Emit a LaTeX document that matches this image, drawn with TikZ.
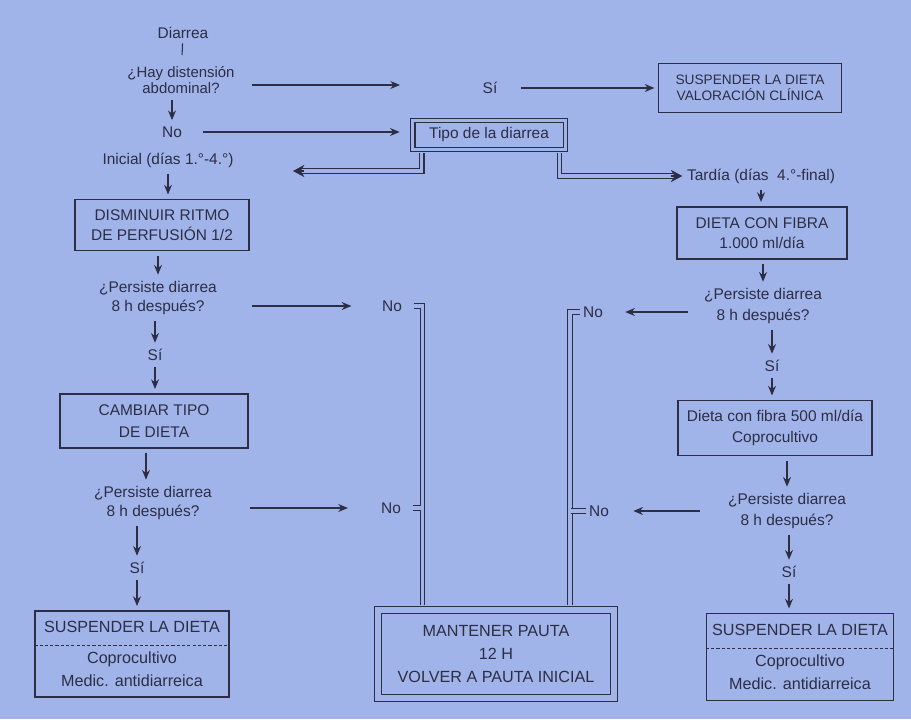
\documentclass[tikz,border=0pt]{standalone}
\usepackage{fontspec}
\setmainfont{Liberation Sans}
\usetikzlibrary{arrows.meta}
\definecolor{papel}{RGB}{160,180,234}
\definecolor{tinta}{RGB}{45,45,68}
\tikzset{
  txt/.style={font=\fontsize{8.8}{11}\selectfont, text=tinta, align=center, inner sep=1pt},
  caja/.style={txt, font=\fontsize{8.8}{11.5}\selectfont, draw=tinta, line width=0.7pt},
  grande/.style={font=\fontsize{9.2}{13}\selectfont},
  doble/.style={draw=tinta, line width=0.6pt, double=papel, double distance=2.2pt},
  flecha/.style={draw=tinta, line width=0.7pt, -{Stealth[length=5.5pt,width=4.5pt]}, shorten <=2.5pt, shorten >=2.5pt},
  punta/.style={draw=tinta, line width=0.6pt, -{Stealth[length=6.5pt,width=7pt]}},
  corte/.style={draw=tinta, line width=0.5pt, dash pattern=on 1.8pt off 1.2pt},
}
\begin{document}
\begin{tikzpicture}[x=0.02cm, y=-0.02cm]
\fill[papel] (0,0) rectangle (911,719);
\useasboundingbox (0,0) rectangle (911,719);

% entrada
\node[txt] (diarrea) at (183,33) {Diarrea};
\node[txt, font=\fontsize{8.5}{9.5}\selectfont] (hay) at (181,80) {¿Hay distensión\\abdominal?};
\node[txt] (si0) at (490,88) {Sí};
\node[caja, font=\fontsize{7.8}{9}\selectfont, minimum width=3.66cm, minimum height=0.98cm] (susp0) at (750,88) {SUSPENDER LA DIETA\\VALORACIÓN CLÍNICA};
\node[txt] (no0) at (172,132) {No};
\node[txt, doble, minimum width=3.06cm, minimum height=0.58cm] (tipo) at (489,135) {Tipo de la diarrea};
\node[txt] (inicial) at (168,160) {Inicial (días 1.°-4.°)};
\node[txt] (tardia) at (761,176) {Tardía (días~ 4.°-final)};

% rama inicial
\node[caja, minimum width=3.48cm, minimum height=1.02cm] (dismin) at (162,225) {DISMINUIR RITMO\\DE PERFUSIÓN 1/2};
\node[txt] (pers1) at (158,298) {¿Persiste diarrea\\8 h después?};
\node[txt] (no1) at (392,306) {No};
\node[txt] (si1) at (155,355) {Sí};
\node[caja, font=\fontsize{8.8}{12.5}\selectfont, minimum width=3.76cm, minimum height=1.08cm] (cambiar) at (154,421) {CAMBIAR TIPO\\DE DIETA};
\node[txt] (pers2) at (153,503) {¿Persiste diarrea\\8 h después?};
\node[txt] (no2) at (391,508) {No};
\node[txt] (si2) at (137,568) {Sí};
\node[caja, grande, minimum width=3.88cm, minimum height=1.72cm] (suspL) at (132,654) {SUSPENDER LA DIETA\\[5pt]Coprocultivo\\Medic. antidiarreica};

% rama tardia
\node[caja, minimum width=3.4cm, minimum height=1.04cm] (fibra1) at (762,233) {DIETA CON FIBRA\\1.000 ml/día};
\node[txt, font=\fontsize{8.8}{12}\selectfont] (pers3) at (763,306) {¿Persiste diarrea\\8 h después?};
\node[txt] (no3) at (593,312) {No};
\node[txt] (si3) at (772,366) {Sí};
\node[caja, minimum width=3.88cm, minimum height=1.1cm] (fibra2) at (775,428) {Dieta con fibra 500 ml/día\\Coprocultivo};
\node[txt, font=\fontsize{8.8}{12}\selectfont] (pers4) at (787,511) {¿Persiste diarrea\\8 h después?};
\node[txt] (no4) at (599,511) {No};
\node[txt] (si4) at (789,572) {Sí};
\node[caja, grande, minimum width=3.74cm, minimum height=1.74cm] (suspR) at (800,657) {SUSPENDER LA DIETA\\[5pt]Coprocultivo\\Medic. antidiarreica};

\node[caja, grande, double=papel, double distance=3.6pt, line width=0.6pt, minimum width=4.72cm, minimum height=1.76cm] (mant) at (496,654) {MANTENER PAUTA\\12 H\\VOLVER A PAUTA INICIAL};

\coordinate (hayfin) at (400,85);
\coordinate (inifin) at (293,171);
\coordinate (tarfin) at ([xshift=-1.5pt]tardia.west);
\coordinate (colL) at (422.5,0);
\coordinate (colR) at (570,0);

\draw[tinta, line width=0.6pt, shorten <=1.5pt, shorten >=5pt] (diarrea) -- (hay);
\draw[flecha, shorten <=8.5pt, shorten >=0pt] (hay.east |- hayfin) -- (hayfin);
\draw[flecha, shorten <=12.5pt, shorten >=2pt] (si0.east) -- (susp0.west);
\draw[flecha] (hay.south -| no0) -- (no0);
\draw[flecha, shorten <=11pt, shorten >=7pt] (no0.east) -- (tipo.west |- no0.east);
\draw[doble, shorten <=1.7pt, shorten >=5pt] ([xshift=-1.35cm]tipo.south) |- (inifin);
\draw[punta] ([xshift=6.5pt]inifin) -- (inifin);
\draw[doble, shorten <=1.7pt, shorten >=5pt] ([xshift=1.41cm]tipo.south) |- (tarfin);
\draw[punta] ([xshift=-6.5pt]tarfin) -- (tarfin);

% izquierda
\draw[flecha] (inicial) -- (inicial |- dismin.north);
\draw[flecha] (dismin.south -| pers1) -- (pers1);
\draw[flecha] (pers1.south -| si1) -- (si1);
\draw[flecha] (si1) -- (si1 |- cambiar.north);
\draw[flecha] (cambiar.south -| 146,0) -- (pers2.north -| 146,0);
\draw[flecha] (pers2.south -| si2) -- (si2);
\draw[flecha] (si2) -- (si2 |- suspL.north);
\draw[flecha, shorten <=18.8pt, shorten >=16.3pt] (pers1.east |- no1) -- (no1.west);
\draw[flecha, shorten <=20.5pt, shorten >=17.7pt] (pers2.east |- no2) -- (no2.west);
\draw[corte] ([yshift=0.18cm]suspL.west) -- ([yshift=0.18cm]suspL.east);

% derecha
\draw[flecha] (tardia) -- (tardia |- fibra1.north);
\draw[flecha] (fibra1.south -| pers3) -- (pers3);
\draw[flecha] (pers3.south -| si3) -- (si3);
\draw[flecha] (si3) -- (si3 |- fibra2.north);
\draw[flecha] (fibra2.south -| pers4) -- (pers4);
\draw[flecha] (pers4.south -| si4) -- (si4);
\draw[flecha] (si4) -- (si4 |- suspR.north);
\draw[flecha, shorten <=8pt, shorten >=11.5pt] (pers3.west |- no3) -- (no3.east);
\draw[flecha, shorten <=15pt, shorten >=12.7pt] (pers4.west |- no4) -- (no4.east);
\draw[corte] ([yshift=0.18cm]suspR.west) -- ([yshift=0.18cm]suspR.east);

% hacia mantener pauta
\draw[doble, shorten <=5.5pt, shorten >=2.4pt] (no1.east) -| (colL |- mant.north);
\draw[doble, shorten <=5.5pt] (no2.east) -- ([xshift=-0.83pt]no2.east -| colL);
\draw[doble, shorten <=0.5pt, shorten >=2.4pt] (no3.west) -| (colR |- mant.north);
\draw[doble, shorten <=0.5pt] (no4.west) -- ([xshift=0.83pt]no4.west -| colR);

\end{tikzpicture}
\end{document}
